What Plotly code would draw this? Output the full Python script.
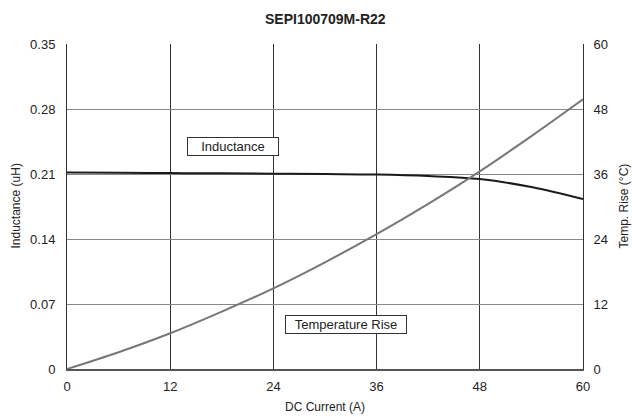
import plotly.graph_objects as go

current = [0, 6, 12, 18, 24, 30, 36, 42, 48, 54, 60]
inductance = [0.2115, 0.2113, 0.2110, 0.2107, 0.2103, 0.2099, 0.2094, 0.2078, 0.2045, 0.1960, 0.1830]
temp_rise = [0, 3.1, 6.6, 10.6, 14.9, 19.7, 24.9, 30.5, 36.5, 43.0, 49.8]

x_ticks = [0, 12, 24, 36, 48, 60]
y1_ticks = [0, 0.07, 0.14, 0.21, 0.28, 0.35]
y1_labels = ["0", "0.07", "0.14", "0.21", "0.28", "0.35"]
y2_ticks = [0, 12, 24, 36, 48, 60]

font = "Liberation Sans, Arial, sans-serif"

fig = go.Figure()
fig.add_trace(go.Scatter(x=current, y=inductance, mode="lines", line=dict(color="#1a1a1a", width=2, shape="spline"),
                         showlegend=False, yaxis="y"))
fig.add_trace(go.Scatter(x=current, y=temp_rise, mode="lines", line=dict(color="#777777", width=2, shape="spline"),
                         showlegend=False, yaxis="y2"))

# body margin is removed by post_script, so figure coordinates equal window coordinates
W, H = 632, 417
L, T = 67, 44
R, B = W - 583, H - 369
pw, ph = W - L - R, H - T - B

def px_x(px):
    return (px - L) / pw

def px_y(py):
    return (369 - py) / ph

fig.update_layout(
    width=W, height=H,
    margin=dict(l=L, r=R, t=T, b=B, autoexpand=False),
    paper_bgcolor="white", plot_bgcolor="white",
    font=dict(family=font, size=13, color="#222"),
    xaxis=dict(range=[0, 60], tickvals=x_ticks, showgrid=True, gridcolor="#333333", gridwidth=1,
               showline=True, linecolor="#555555", linewidth=2, mirror=False, zeroline=False,
               ticks="", ticklabelstandoff=4, automargin=False, tickfont=dict(size=13)),
    yaxis=dict(range=[0, 0.35], tickvals=y1_ticks, ticktext=y1_labels, showgrid=True, gridcolor="#888888",
               gridwidth=1, showline=True, linecolor="#333333", linewidth=1, zeroline=False, ticks="",
               ticklabelstandoff=8, automargin=False, tickfont=dict(size=13)),
    yaxis2=dict(range=[0, 60], tickvals=y2_ticks, overlaying="y", side="right", showgrid=False,
                showline=True, linecolor="#333333", linewidth=1, zeroline=False, ticks="",
                ticklabelstandoff=7, automargin=False, tickfont=dict(size=13)),
    annotations=[
        dict(x=0.5, y=px_y(19), xref="paper", yref="paper", text="<b>SEPI100709M-R22</b>", showarrow=False,
             font=dict(size=14, color="#222"), xanchor="center", yanchor="middle"),
        dict(x=px_x(15), y=0.5, xref="paper", yref="paper", text="Inductance (uH)", showarrow=False,
             textangle=-90, font=dict(size=12, color="#222"), xanchor="center", yanchor="middle"),
        dict(x=px_x(623), y=0.5, xref="paper", yref="paper", text="Temp. Rise (°C)", showarrow=False,
             textangle=-90, font=dict(size=12, color="#222"), xanchor="center", yanchor="middle"),
        dict(x=0.5, y=px_y(407), xref="paper", yref="paper", text="DC Current (A)", showarrow=False,
             font=dict(size=12, color="#222"), xanchor="center", yanchor="middle"),
        dict(x=19.3, y=0.2396, xref="x", yref="y", text="Inductance", showarrow=False,
             bordercolor="#333", borderwidth=1, bgcolor="white", borderpad=1,
             font=dict(size=13, color="#222"), width=88),
        dict(x=32.4, y=0.0474, xref="x", yref="y", text="Temperature Rise", showarrow=False,
             bordercolor="#333", borderwidth=1, bgcolor="white", borderpad=1,
             font=dict(size=13, color="#222"), width=118),
    ],
)

fig.write_html("out.html", config={"displayModeBar": False},
               post_script="document.body.style.margin='0';document.body.style.overflow='hidden';")
